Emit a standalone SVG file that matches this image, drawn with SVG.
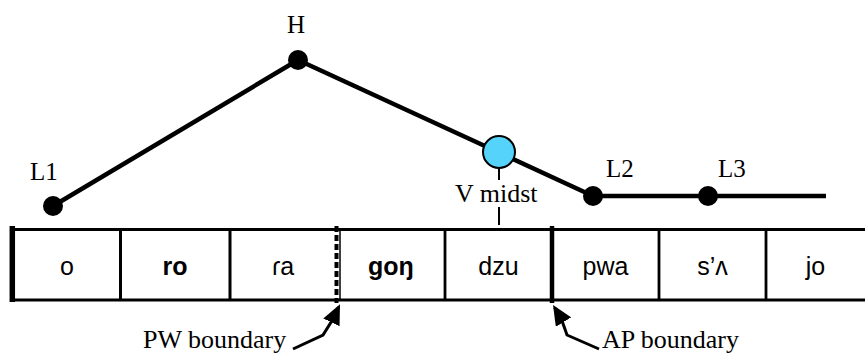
<svg xmlns="http://www.w3.org/2000/svg" width="865" height="361" viewBox="0 0 865 361">
  <style>
    .serif { font-family: "Liberation Serif", "Times New Roman", serif; fill: #000; }
    .lbl { font-size: 25px; }
    .blbl { font-size: 26px; }
    .syl { font-family: "Liberation Sans", Arial, sans-serif; font-size: 25px; fill: #000; text-anchor: middle; }
    .bold { font-weight: bold; }
    .contour { fill: none; stroke: #000; stroke-width: 4.5; stroke-linejoin: round; }
    .dot { fill: #000; }
    .grid { stroke: #000; fill: none; }
    .pointer { fill: none; stroke: #000; stroke-width: 3; stroke-linejoin: miter; }
  </style>
  <defs>
    <marker id="head" markerUnits="userSpaceOnUse" viewBox="0 0 20 18" markerWidth="20" markerHeight="18" refX="17" refY="9" orient="auto">
      <path d="M0,0 L20,9 L0,18 z" fill="#000"/>
    </marker>
  </defs>

  <!-- syllable grid -->
  <g id="grid">
    <line class="grid" x1="12" y1="229.5" x2="865" y2="229.5" stroke-width="2.8"/>
    <line class="grid" x1="12" y1="300" x2="865" y2="300" stroke-width="2.8"/>
    <line class="grid" x1="12.3" y1="226" x2="12.3" y2="302" stroke-width="5.5"/>
    <line class="grid" x1="120.5" y1="229" x2="120.5" y2="301" stroke-width="3"/>
    <line class="grid" x1="230" y1="229" x2="230" y2="301" stroke-width="3"/>
    <line class="grid" x1="340" y1="229" x2="340" y2="301" stroke-width="1.5"/>
    <line class="grid" x1="336.5" y1="226" x2="336.5" y2="303" stroke-width="4" stroke-dasharray="6 3"/>
    <line class="grid" x1="445" y1="229" x2="445" y2="301" stroke-width="2.8"/>
    <line class="grid" x1="552" y1="226" x2="552" y2="303" stroke-width="4.5"/>
    <line class="grid" x1="659" y1="229" x2="659" y2="301" stroke-width="2.8"/>
    <line class="grid" x1="766" y1="229" x2="766" y2="301" stroke-width="2.8"/>
  </g>

  <!-- syllables -->
  <g id="syllables">
    <text class="syl" x="67" y="275">o</text>
    <text class="syl bold" x="175" y="275">ro</text>
    <text class="syl" x="283" y="275">ɾa</text>
    <text class="syl bold" x="391" y="275">goŋ</text>
    <text class="syl" x="498.5" y="275">dzu</text>
    <text class="syl" x="605.5" y="275">pwa</text>
    <text class="syl" x="712.5" y="275">s’ʌ</text>
    <text class="syl" x="815.5" y="275">jo</text>
  </g>

  <!-- connectors: pitch contour, alignment tick and boundary pointers -->
  <g id="connectors">
    <polyline class="contour" points="53,206 298,60 499,152.5 593,196 826,196"/>
    <line x1="499" y1="166" x2="499" y2="180" stroke="#000" stroke-width="2"/>
    <line x1="499" y1="207" x2="499" y2="225" stroke="#000" stroke-width="2"/>
    <polyline class="pointer" points="293,349 323,335 333,319 338.7,307" marker-end="url(#head)"/>
    <polyline class="pointer" points="599,349 567,335 561,318 554.6,307.6" marker-end="url(#head)"/>
  </g>

  <!-- tonal targets -->
  <g id="L1">
    <circle class="dot" cx="53" cy="206" r="10"/>
    <text class="serif lbl" x="30" y="180">L1</text>
  </g>
  <g id="H">
    <circle class="dot" cx="298" cy="60" r="10"/>
    <text class="serif lbl" x="287" y="33">H</text>
  </g>
  <g id="Vmidst">
    <circle cx="499" cy="152" r="16" fill="#55d3fb" stroke="#000" stroke-width="2"/>
    <text class="serif blbl" x="455" y="202">V midst</text>
  </g>
  <g id="L2">
    <circle class="dot" cx="593" cy="196" r="10"/>
    <text class="serif lbl" x="606" y="177">L2</text>
  </g>
  <g id="L3">
    <circle class="dot" cx="708" cy="196" r="10"/>
    <text class="serif lbl" x="718" y="177">L3</text>
  </g>

  <!-- boundary labels -->
  <g id="PW">
    <text class="serif blbl" x="143" y="348">PW boundary</text>
  </g>
  <g id="AP">
    <text class="serif blbl" x="602" y="348">AP boundary</text>
  </g>
</svg>
